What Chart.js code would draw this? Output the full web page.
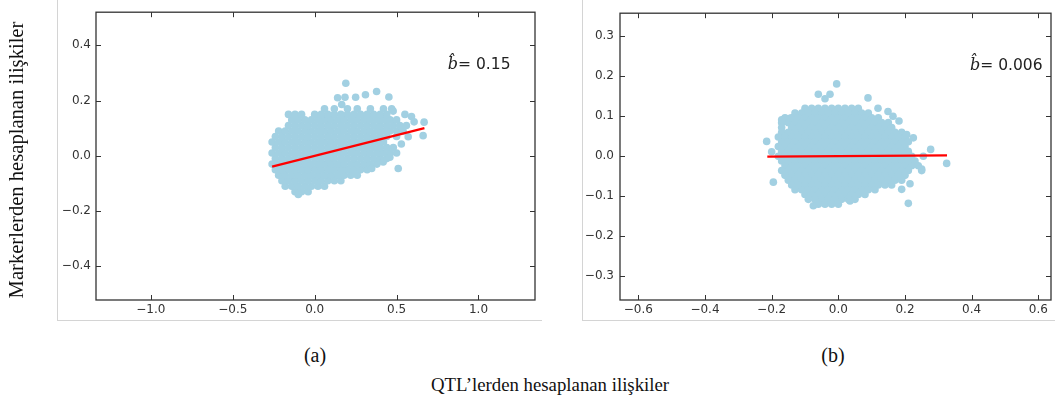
<!DOCTYPE html>
<html>
<head>
<meta charset="utf-8">
<script src="https://cdn.jsdelivr.net/npm/chart.js@4"></script>
<style>
  html, body { margin: 0; padding: 0; background: #fff; }
  body { position: relative; width: 1055px; height: 405px; overflow: hidden; }
  .frame { position: absolute; top: 0; height: 320px; border-left: 1px solid #d4d4d4; border-bottom: 1px solid #d4d4d4; }
  #frameA { left: 57px; width: 484px; }
  #frameB { left: 582px; width: 473px; }
  canvas { position: absolute; top: 0; }
  #chartA { left: 0; }
  #chartB { left: 560px; }
  .cap { position: absolute; font-family: "Liberation Serif", "Times New Roman", serif; font-size: 20px; color: #111; text-align: center; line-height: 24px; height: 24px; white-space: nowrap; }
  #ylab { left: -184px; top: 148px; width: 400px; font-size: 20.6px; transform: rotate(-90deg); }
  #capA { left: 265px; top: 343px; width: 100px; }
  #capB { left: 783px; top: 343px; width: 100px; }
  #xlab { left: 350px; top: 373px; width: 400px; font-size: 18.8px; }
</style>
</head>
<body>
<div class="frame" id="frameA"></div>
<div class="frame" id="frameB"></div>
<canvas id="chartA" width="545" height="325"></canvas>
<canvas id="chartB" width="495" height="325"></canvas>
<div class="cap" id="ylab">Markerlerden hesaplanan ilişkiler</div>
<div class="cap" id="capA">(a)</div>
<div class="cap" id="capB">(b)</div>
<div class="cap" id="xlab">QTL’lerden hesaplanan ilişkiler</div>
<script>
// Tick values for each panel
const tickXA = [-1.0, -0.5, 0.0, 0.5, 1.0];
const tickYA = [-0.4, -0.2, 0.0, 0.2, 0.4];
const tickXB = [-0.6, -0.4, -0.2, 0.0, 0.2, 0.4, 0.6];
const tickYB = [-0.3, -0.2, -0.1, 0.0, 0.1, 0.2, 0.3];

// Estimated regression slopes (shown as b-hat) and the x span of each fitted line
const slopes = [0.15, 0.006];
const fitSpanA = [-0.26, 0.67];
const fitSpanB = [-0.213, 0.326];

// Panel (a): dense core of the cloud, one entry per row: [y, x values]
const cloudRowsA = [
  [-0.13, [-0.12, -0.08, -0.04]],
  [-0.11, [-0.18, -0.14, -0.10, -0.06, -0.02, 0.02, 0.06]],
  [-0.09, [-0.20, -0.16, -0.12, -0.08, -0.04, 0.00, 0.04, 0.08, 0.12, 0.16]],
  [-0.07, [-0.22, -0.18, -0.14, -0.10, -0.06, -0.02, 0.02, 0.06, 0.10, 0.14, 0.18, 0.22, 0.26]],
  [-0.05, [-0.24, -0.20, -0.16, -0.12, -0.08, -0.04, 0.00, 0.04, 0.08, 0.12, 0.16, 0.20, 0.24, 0.28, 0.32]],
  [-0.03, [-0.26, -0.22, -0.18, -0.14, -0.10, -0.06, -0.02, 0.02, 0.06, 0.10, 0.14, 0.18, 0.22, 0.26, 0.30, 0.34, 0.38]],
  [-0.01, [-0.24, -0.20, -0.16, -0.12, -0.08, -0.04, 0.00, 0.04, 0.08, 0.12, 0.16, 0.20, 0.24, 0.28, 0.32, 0.36, 0.40, 0.44]],
  [0.01, [-0.26, -0.22, -0.18, -0.14, -0.10, -0.06, -0.02, 0.02, 0.06, 0.10, 0.14, 0.18, 0.22, 0.26, 0.30, 0.34, 0.38, 0.42, 0.46, 0.50]],
  [0.03, [-0.24, -0.20, -0.16, -0.12, -0.08, -0.04, 0.00, 0.04, 0.08, 0.12, 0.16, 0.20, 0.24, 0.28, 0.32, 0.36, 0.40, 0.44, 0.48]],
  [0.05, [-0.26, -0.22, -0.18, -0.14, -0.10, -0.06, -0.02, 0.02, 0.06, 0.10, 0.14, 0.18, 0.22, 0.26, 0.30, 0.34, 0.38, 0.42]],
  [0.07, [-0.24, -0.20, -0.16, -0.12, -0.08, -0.04, 0.00, 0.04, 0.08, 0.12, 0.16, 0.20, 0.24, 0.28, 0.32, 0.36, 0.40, 0.44, 0.50]],
  [0.09, [-0.22, -0.18, -0.14, -0.10, -0.06, -0.02, 0.02, 0.06, 0.10, 0.14, 0.18, 0.22, 0.26, 0.30, 0.34, 0.38, 0.42, 0.46, 0.50, 0.54]],
  [0.11, [-0.16, -0.12, -0.08, -0.04, 0.00, 0.04, 0.08, 0.12, 0.16, 0.20, 0.24, 0.28, 0.32, 0.36, 0.40, 0.44, 0.48, 0.52, 0.56]],
  [0.13, [-0.14, -0.10, -0.06, -0.02, 0.02, 0.06, 0.10, 0.14, 0.18, 0.22, 0.26, 0.30, 0.34, 0.38, 0.42, 0.46, 0.50]],
  [0.15, [-0.16, -0.12, -0.08, 0.00, 0.04, 0.08, 0.12, 0.16, 0.20, 0.24, 0.28, 0.32, 0.36, 0.40, 0.44]],
  [0.17, [0.06, 0.12, 0.20, 0.26, 0.34, 0.42, 0.47]]
];
// Panel (a): scattered points around the edge of the cloud, [x, y]
const strayA = [
  [0.19, 0.263], [0.14, 0.21], [0.185, 0.212], [0.25, 0.212], [0.31, 0.221], [0.378, 0.233],
  [0.453, 0.213], [0.165, 0.186], [0.479, 0.162], [0.551, 0.15], [0.591, 0.142], [0.607, 0.123],
  [0.668, 0.122], [0.662, 0.073], [0.571, 0.069], [0.529, 0.043], [0.51, -0.046], [0.348, -0.046],
  [0.418, -0.022], [0.459, -0.005], [-0.1, -0.14]
];

// Panel (b): dense core of the cloud, one entry per row: [y, x values]
const cloudRowsB = [
  [0.120, [-0.10, -0.08, -0.06, -0.04, -0.02, 0.00, 0.02, 0.04, 0.06]],
  [0.108, [-0.13, -0.11, -0.09, -0.07, -0.05, -0.03, -0.01, 0.01, 0.03, 0.05, 0.07, 0.09]],
  [0.096, [-0.16, -0.14, -0.12, -0.10, -0.08, -0.06, -0.04, -0.02, 0.00, 0.02, 0.04, 0.06, 0.08, 0.10, 0.12]],
  [0.084, [-0.17, -0.15, -0.13, -0.11, -0.09, -0.07, -0.05, -0.03, -0.01, 0.01, 0.03, 0.05, 0.07, 0.09, 0.11, 0.13, 0.15]],
  [0.072, [-0.17, -0.14, -0.12, -0.10, -0.08, -0.06, -0.04, -0.02, 0.00, 0.02, 0.04, 0.06, 0.08, 0.10, 0.12, 0.14, 0.16]],
  [0.060, [-0.17, -0.15, -0.13, -0.11, -0.09, -0.07, -0.05, -0.03, -0.01, 0.01, 0.03, 0.05, 0.07, 0.09, 0.11, 0.13, 0.15, 0.17, 0.19]],
  [0.048, [-0.18, -0.16, -0.14, -0.12, -0.10, -0.08, -0.06, -0.04, -0.02, 0.00, 0.02, 0.04, 0.06, 0.08, 0.10, 0.12, 0.14, 0.16, 0.18, 0.20]],
  [0.036, [-0.17, -0.15, -0.13, -0.11, -0.09, -0.07, -0.05, -0.03, -0.01, 0.01, 0.03, 0.05, 0.07, 0.09, 0.11, 0.13, 0.15, 0.17, 0.19, 0.21]],
  [0.024, [-0.18, -0.16, -0.14, -0.12, -0.10, -0.08, -0.06, -0.04, -0.02, 0.00, 0.02, 0.04, 0.06, 0.08, 0.10, 0.12, 0.14, 0.16, 0.18, 0.20]],
  [0.012, [-0.17, -0.15, -0.13, -0.11, -0.09, -0.07, -0.05, -0.03, -0.01, 0.01, 0.03, 0.05, 0.07, 0.09, 0.11, 0.13, 0.15, 0.17, 0.19, 0.21]],
  [0.000, [-0.18, -0.16, -0.14, -0.12, -0.10, -0.08, -0.06, -0.04, -0.02, 0.00, 0.02, 0.04, 0.06, 0.08, 0.10, 0.12, 0.14, 0.16, 0.18, 0.20, 0.22]],
  [-0.012, [-0.17, -0.15, -0.13, -0.11, -0.09, -0.07, -0.05, -0.03, -0.01, 0.01, 0.03, 0.05, 0.07, 0.09, 0.11, 0.13, 0.15, 0.17, 0.19, 0.21, 0.23]],
  [-0.024, [-0.16, -0.14, -0.12, -0.10, -0.08, -0.06, -0.04, -0.02, 0.00, 0.02, 0.04, 0.06, 0.08, 0.10, 0.12, 0.14, 0.16, 0.18, 0.20, 0.22, 0.24]],
  [-0.036, [-0.17, -0.15, -0.13, -0.11, -0.09, -0.07, -0.05, -0.03, -0.01, 0.01, 0.03, 0.05, 0.07, 0.09, 0.11, 0.13, 0.15, 0.17, 0.19, 0.21, 0.25]],
  [-0.048, [-0.16, -0.14, -0.12, -0.10, -0.08, -0.06, -0.04, -0.02, 0.00, 0.02, 0.04, 0.06, 0.08, 0.10, 0.12, 0.14, 0.16, 0.18, 0.20]],
  [-0.060, [-0.15, -0.13, -0.11, -0.09, -0.07, -0.05, -0.03, -0.01, 0.01, 0.03, 0.05, 0.07, 0.09, 0.11, 0.13, 0.15, 0.17, 0.19]],
  [-0.072, [-0.14, -0.12, -0.10, -0.08, -0.06, -0.04, -0.02, 0.00, 0.02, 0.04, 0.06, 0.08, 0.10, 0.12, 0.14, 0.16]],
  [-0.084, [-0.13, -0.11, -0.09, -0.07, -0.05, -0.03, -0.01, 0.01, 0.03, 0.05, 0.07, 0.09, 0.11]],
  [-0.096, [-0.10, -0.08, -0.06, -0.04, -0.02, 0.00, 0.02, 0.04, 0.06, 0.08]],
  [-0.108, [-0.09, -0.07, -0.05, -0.03, -0.01, 0.01, 0.03, 0.05]],
  [-0.120, [-0.06, -0.04, -0.02, 0.00]]
];
// Panel (b): scattered points around the edge of the cloud, [x, y]
const strayB = [
  [-0.005, 0.181], [-0.06, 0.155], [-0.04, 0.144], [-0.025, 0.155], [0.089, 0.146], [0.119, 0.12],
  [0.149, 0.112], [0.164, 0.1], [0.182, 0.088], [-0.215, 0.037], [-0.2, 0.011], [-0.195, -0.065],
  [-0.17, 0.091], [-0.145, 0.095], [0.225, 0.046], [0.205, 0.054], [0.277, 0.017], [0.255, 0.0],
  [0.325, -0.018], [0.25, -0.032], [0.215, -0.069], [0.19, -0.083], [0.21, -0.118], [-0.075, -0.124],
  [0.035, -0.112]
];

function toPoints(rows, stray) {
  const pts = [];
  rows.forEach(([y, xs]) => xs.forEach(x => pts.push({ x, y })));
  stray.forEach(([x, y]) => pts.push({ x, y }));
  return pts;
}

const fmt = v => (v < 0 ? '\u2212' : '') + Math.abs(v).toFixed(1);

// Draws the closed axes box, inward ticks on all four sides and the slope note
function boxPlugin(xt, yt, slope, notePos) {
  return {
    id: 'box',
    afterDraw(chart) {
      const { ctx, chartArea: a, scales: { x, y } } = chart;
      ctx.save();
      ctx.strokeStyle = '#333';
      ctx.lineWidth = 1.3;
      ctx.strokeRect(a.left, a.top, a.right - a.left, a.bottom - a.top);
      ctx.lineWidth = 1;
      ctx.beginPath();
      xt.forEach(v => {
        const px = Math.round(x.getPixelForValue(v)) + 0.5;
        ctx.moveTo(px, a.bottom); ctx.lineTo(px, a.bottom - 5);
        ctx.moveTo(px, a.top); ctx.lineTo(px, a.top + 5);
      });
      yt.forEach(v => {
        const py = Math.round(y.getPixelForValue(v)) + 0.5;
        ctx.moveTo(a.left, py); ctx.lineTo(a.left + 5, py);
        ctx.moveTo(a.right, py); ctx.lineTo(a.right - 5, py);
      });
      ctx.stroke();
      const nx = x.getPixelForValue(notePos[0]);
      const ny = y.getPixelForValue(notePos[1]);
      ctx.fillStyle = '#222';
      ctx.textBaseline = 'alphabetic';
      ctx.textAlign = 'left';
      ctx.font = 'italic 16px "DejaVu Serif"';
      ctx.fillText('b\u0302', nx, ny);
      const w = ctx.measureText('b').width;
      ctx.font = '15.5px "DejaVu Sans"';
      ctx.fillText('= ' + slope, nx + w, ny);
      ctx.restore();
    }
  };
}

function makeChart(id, cfg) {
  const axisTicks = { color: '#333', font: { family: 'DejaVu Sans', size: 12 }, autoSkip: false, maxRotation: 0, callback: fmt };
  new Chart(document.getElementById(id), {
    type: 'scatter',
    data: {
      datasets: [
        {
          type: 'line',
          data: cfg.span.map(x => ({ x, y: cfg.slope * x })),
          borderColor: '#ff0000',
          borderWidth: 2.2,
          pointRadius: 0,
          order: 0
        },
        {
          type: 'scatter',
          data: cfg.points,
          backgroundColor: '#a2d0e2',
          borderWidth: 0,
          pointRadius: 3.8,
          order: 1
        }
      ]
    },
    options: {
      responsive: false,
      animation: false,
      devicePixelRatio: 1,
      events: [],
      layout: { padding: cfg.padding },
      plugins: { legend: { display: false }, tooltip: { enabled: false } },
      scales: {
        x: {
          type: 'linear', min: cfg.xRange[0], max: cfg.xRange[1],
          grid: { display: false, drawTicks: false }, border: { display: false },
          ticks: Object.assign({ padding: 3 }, axisTicks),
          afterBuildTicks: s => { s.ticks = cfg.xt.map(v => ({ value: v })); },
          afterFit: s => { s.height = 20; }
        },
        y: {
          type: 'linear', min: cfg.yRange[0], max: cfg.yRange[1],
          grid: { display: false, drawTicks: false }, border: { display: false },
          ticks: Object.assign({ padding: cfg.yPad }, axisTicks),
          afterBuildTicks: s => { s.ticks = cfg.yt.map(v => ({ value: v })); },
          afterFit: s => { s.width = cfg.yWidth; }
        }
      }
    },
    plugins: [boxPlugin(cfg.xt, cfg.yt, cfg.slope, cfg.note)]
  });
}

makeChart('chartA', {
  points: toPoints(cloudRowsA, strayA),
  span: fitSpanA, slope: slopes[0],
  xt: tickXA, yt: tickYA,
  xRange: [-1.335, 1.345], yRange: [-0.522, 0.52],
  padding: { left: 56, right: 10, top: 8, bottom: 5 },
  yWidth: 40, yPad: 5,
  note: [0.813, 0.313]
});

makeChart('chartB', {
  points: toPoints(cloudRowsB, strayB),
  span: fitSpanB, slope: slopes[1],
  xt: tickXB, yt: tickYB,
  xRange: [-0.655, 0.638], yRange: [-0.36, 0.358],
  padding: { left: 18, right: 4, top: 8, bottom: 5 },
  yWidth: 42, yPad: 6,
  note: [0.395, 0.216]
});
</script>
</body>
</html>
